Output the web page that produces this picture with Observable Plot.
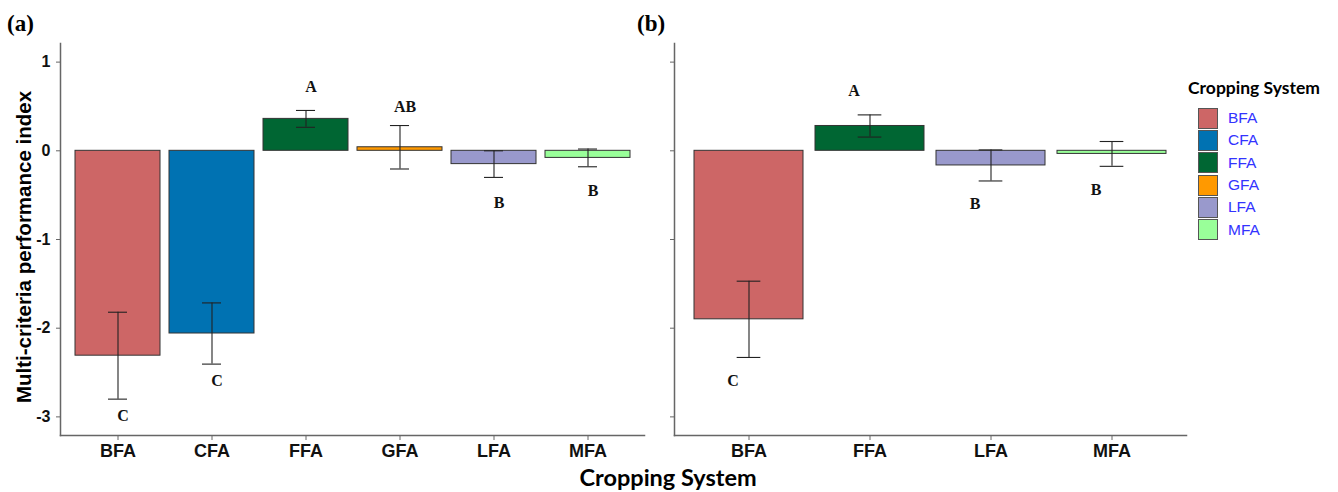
<!DOCTYPE html>
<html>
<head>
<meta charset="utf-8">
<script src="https://cdn.jsdelivr.net/npm/d3@7"></script>
<script src="https://cdn.jsdelivr.net/npm/@observablehq/plot@0.6"></script>
<style>
  html, body { margin: 0; padding: 0; background: #fff; }
  #wrap { position: relative; width: 1338px; height: 492px; overflow: hidden; font-family: Arial, "Liberation Sans", sans-serif; }
  .abs { position: absolute; }
  .panel-label { font-family: "Liberation Serif", "Times New Roman", serif; font-weight: bold; font-size: 23px; }
  .ytitle { font-family: Arial, "Liberation Sans", sans-serif; font-weight: bold; font-size: 20.5px; white-space: nowrap; transform: rotate(-90deg); transform-origin: center center; }
  .xtitle { font-family: Lato, "Open Sans", sans-serif; font-weight: bold; font-size: 23.5px; line-height: 1; white-space: nowrap; }
  .leg-title { font-family: Lato, "Open Sans", sans-serif; font-weight: bold; font-size: 17.5px; white-space: nowrap; }
  .leg-row { display: flex; align-items: center; height: 22.3px; }
  .leg-key { width: 18px; height: 19px; border: 1.3px solid #555; box-sizing: content-box; }
  .leg-text { margin-left: 10px; color: #3333ff; font-family: Arial, "Liberation Sans", sans-serif; font-size: 15.5px; }
</style>
</head>
<body>
<div id="wrap"></div>
<script>
// ---- data ----
const systems = ["BFA", "CFA", "FFA", "GFA", "LFA", "MFA"];
const systemColors = ["#CD6666", "#0072B2", "#006633", "#FF9900", "#9999CC", "#99FF99"];

// panel (a)
const catsA = ["BFA", "CFA", "FFA", "GFA", "LFA", "MFA"];
const meanA = [-2.31, -2.06, 0.36, 0.04, -0.15, -0.08];
const seA = [0.49, 0.345, 0.095, 0.245, 0.15, 0.10];
const letterA = ["C", "C", "A", "AB", "B", "B"];
const letterYA = [-2.99, -2.59, 0.72, 0.50, -0.59, -0.45];

// panel (b)
const catsB = ["BFA", "FFA", "LFA", "MFA"];
const meanB = [-1.90, 0.28, -0.165, -0.035];
const seB = [0.43, 0.125, 0.175, 0.14];
const letterB = ["C", "A", "B", "B"];
const letterYB = [-2.59, 0.68, -0.60, -0.44];

const yTicks = [-3, -2, -1, 0, 1];
const yDomain = [-3.21, 1.21];

// ---- drawing ----
const wrap = document.getElementById("wrap");
const colorOf = Object.fromEntries(systems.map((s, i) => [s, systemColors[i]]));

function panel({cats, mean, se, letters, letterY, width, marginLeft, marginRight, showYLabels, letterDx}) {
  const data = cats.map((c, i) => ({
    c, v: mean[i], lo: mean[i] - se[i], hi: mean[i] + se[i], lab: letters[i], ly: letterY[i]
  }));
  const height = 470, marginTop = 43, marginBottom = 35;
  const padIn = 0.1, padOut = 0.15;
  const plotW = width - marginLeft - marginRight;
  const step = plotW / (cats.length - padIn + 2 * padOut);
  const capInset = step * (0.9 - 0.2) / 2;
  return Plot.plot({
    width, height, marginLeft, marginRight, marginTop, marginBottom,
    style: {background: "transparent", overflow: "visible"},
    x: {domain: cats, paddingInner: padIn, paddingOuter: padOut, align: 0.5, label: null},
    y: {domain: yDomain, label: null},
    color: {domain: systems, range: systemColors},
    marks: [
      Plot.barY(data, {x: "c", y1: 0, y2: "v", fill: d => colorOf[d.c], stroke: "#333", strokeWidth: 1}),
      Plot.ruleX(data, {x: "c", y1: "lo", y2: "hi", stroke: "#222", strokeWidth: 1.1}),
      Plot.tickY(data, {x: "c", y: "lo", stroke: "#222", strokeWidth: 1.1, insetLeft: capInset, insetRight: capInset}),
      Plot.tickY(data, {x: "c", y: "hi", stroke: "#222", strokeWidth: 1.1, insetLeft: capInset, insetRight: capInset}),
      Plot.text(data, {x: "c", y: "ly", text: "lab", dx: letterDx, fontFamily: "'Liberation Serif', 'Times New Roman', serif",
        fontWeight: "bold", fontSize: 16, fill: "#111", textAnchor: "middle", lineAnchor: "middle"}),
      Plot.axisY({ticks: yTicks, tickSize: 4, tickPadding: 6, stroke: "#666",
        tickFormat: showYLabels ? (d => String(d)) : () => "", fill: "#111",
        fontSize: 16, fontWeight: "bold", fontFamily: "Arial, 'Liberation Sans', sans-serif", label: null}),
      Plot.axisX({tickSize: 5, tickPadding: 4, stroke: "#666", fill: "#111", fontSize: 18, fontWeight: "bold",
        fontFamily: "Arial, 'Liberation Sans', sans-serif", label: null}),
      Plot.frame({anchor: "left", stroke: "#666", strokeWidth: 1.5}),
      Plot.frame({anchor: "bottom", stroke: "#666", strokeWidth: 1.5})
    ]
  });
}

const pa = panel({cats: catsA, mean: meanA, se: seA, letters: letterA, letterY: letterYA,
  width: 660, marginLeft: 60, marginRight: 16, showYLabels: true, letterDx: 5});
pa.classList.add("abs"); pa.style.left = "0px"; pa.style.top = "0px";
wrap.appendChild(pa);

const pb = panel({cats: catsB, mean: meanB, se: seB, letters: letterB, letterY: letterYB,
  width: 580, marginLeft: 54, marginRight: 14, showYLabels: false, letterDx: -16});
pb.classList.add("abs"); pb.style.left = "620px"; pb.style.top = "0px";
wrap.appendChild(pb);

// panel labels
const la = document.createElement("div"); la.className = "abs panel-label"; la.textContent = "(a)";
la.style.left = "7px"; la.style.top = "11px"; wrap.appendChild(la);
const lb = document.createElement("div"); lb.className = "abs panel-label"; lb.textContent = "(b)";
lb.style.left = "637px"; lb.style.top = "11px"; wrap.appendChild(lb);

// y title
const yt = document.createElement("div"); yt.className = "abs ytitle"; yt.textContent = "Multi-criteria performance index";
wrap.appendChild(yt);
const ytw = yt.offsetWidth, yth = yt.offsetHeight;
yt.style.left = (24 - ytw / 2) + "px"; yt.style.top = (247 - yth / 2) + "px";

// x title
const xt = document.createElement("div"); xt.className = "abs xtitle"; xt.textContent = "Cropping System";
wrap.appendChild(xt);
xt.style.left = (668 - xt.offsetWidth / 2) + "px"; xt.style.top = "466px";

// legend
const leg = document.createElement("div"); leg.className = "abs"; leg.style.left = "1188px"; leg.style.top = "77px";
const lt = document.createElement("div"); lt.className = "leg-title"; lt.textContent = "Cropping System";
lt.style.marginBottom = "9px";
leg.appendChild(lt);
const rows = document.createElement("div"); rows.style.marginLeft = "10px";
systems.forEach((s, i) => {
  const r = document.createElement("div"); r.className = "leg-row";
  const k = document.createElement("div"); k.className = "leg-key"; k.style.background = systemColors[i];
  const t = document.createElement("span"); t.className = "leg-text"; t.textContent = s;
  r.appendChild(k); r.appendChild(t); rows.appendChild(r);
});
leg.appendChild(rows);
wrap.appendChild(leg);
</script>
</body>
</html>
